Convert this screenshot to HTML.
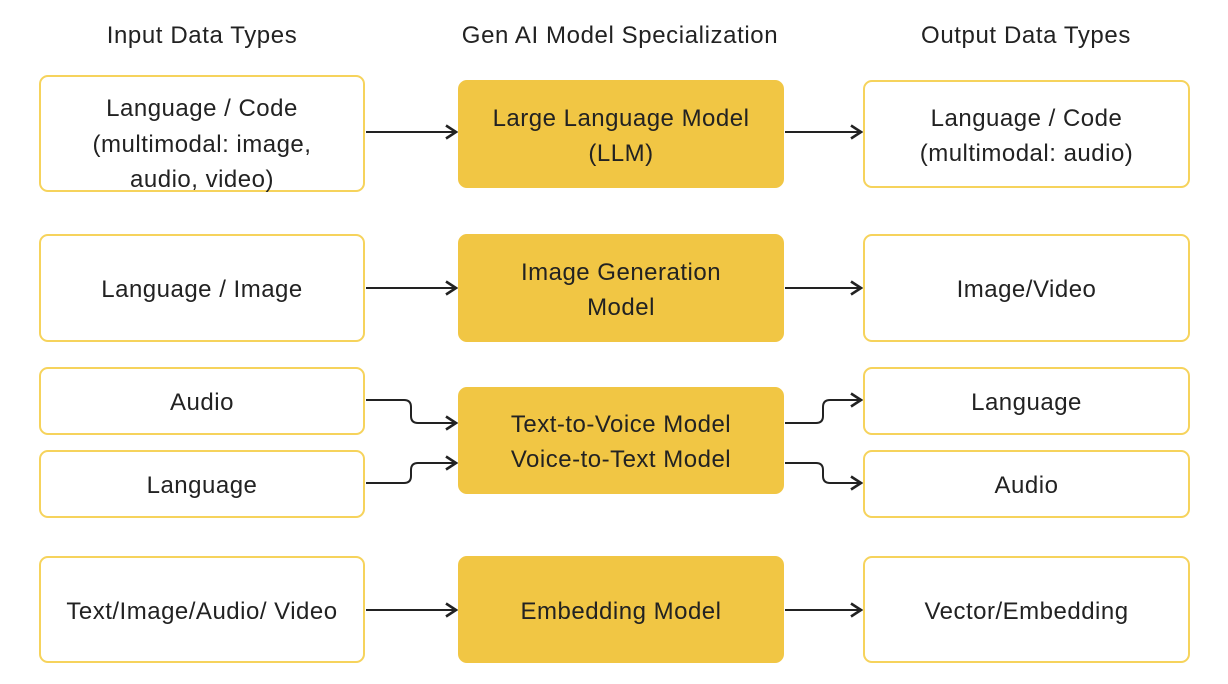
<!DOCTYPE html>
<html><head><meta charset="utf-8"><style>
body{margin:0;width:1228px;height:684px;background:#fff;position:relative;font-family:"Liberation Sans",sans-serif;color:#222;overflow:hidden}
.h{position:absolute;top:21px;font-size:24px;letter-spacing:0.6px;text-align:center;width:420px;line-height:30px}
.b{position:absolute;box-sizing:border-box;border:2px solid #f6d35c;border-radius:9px;display:flex;align-items:center;justify-content:center;text-align:center;font-size:24px;letter-spacing:0.5px;line-height:35px;background:#fff;padding-top:3px}
.m{background:#f1c644;border-color:#f1c644}
svg{position:absolute;left:0;top:0}
</style></head><body>
<div class="h" style="left:-8px">Input Data Types</div>
<div class="h" style="left:410px">Gen AI Model Specialization</div>
<div class="h" style="left:816px">Output Data Types</div>

<div class="b" style="left:39px;top:75px;width:326px;height:117px;padding-top:22px;line-height:35.5px">Language / Code<br>(multimodal: image,<br>audio, video)</div>
<div class="b m" style="left:458px;top:80px;width:326px;height:108px">Large Language Model<br>(LLM)</div>
<div class="b" style="left:863px;top:80px;width:327px;height:108px">Language / Code<br>(multimodal: audio)</div>

<div class="b" style="left:39px;top:234px;width:326px;height:108px">Language / Image</div>
<div class="b m" style="left:458px;top:234px;width:326px;height:108px">Image Generation<br>Model</div>
<div class="b" style="left:863px;top:234px;width:327px;height:108px">Image/Video</div>

<div class="b" style="left:39px;top:367px;width:326px;height:68px">Audio</div>
<div class="b" style="left:39px;top:450px;width:326px;height:68px">Language</div>
<div class="b m" style="left:458px;top:387px;width:326px;height:107px">Text-to-Voice Model<br>Voice-to-Text Model</div>
<div class="b" style="left:863px;top:367px;width:327px;height:68px">Language</div>
<div class="b" style="left:863px;top:450px;width:327px;height:68px">Audio</div>

<div class="b" style="left:39px;top:556px;width:326px;height:107px">Text/Image/Audio/ Video</div>
<div class="b m" style="left:458px;top:556px;width:326px;height:107px">Embedding Model</div>
<div class="b" style="left:863px;top:556px;width:327px;height:107px">Vector/Embedding</div>

<svg width="1228" height="684" fill="none" stroke="#222" stroke-width="2">
<defs><marker id="a" markerWidth="14" markerHeight="16" refX="12" refY="8" orient="auto" markerUnits="userSpaceOnUse"><path d="M2,1.5 L12,8 L2,14.5" stroke="#222" stroke-width="2.6" fill="none" stroke-linejoin="miter"/></marker></defs>
<path d="M366 132H456" marker-end="url(#a)"/>
<path d="M785 132H861" marker-end="url(#a)"/>
<path d="M366 288H456" marker-end="url(#a)"/>
<path d="M785 288H861" marker-end="url(#a)"/>
<path d="M366 610H456" marker-end="url(#a)"/>
<path d="M785 610H861" marker-end="url(#a)"/>
<path d="M366 400H404Q411 400 411 407V416Q411 423 418 423H456" marker-end="url(#a)"/>
<path d="M366 483H404Q411 483 411 476V470Q411 463 418 463H456" marker-end="url(#a)"/>
<path d="M785 423H816Q823 423 823 416V407Q823 400 830 400H861" marker-end="url(#a)"/>
<path d="M785 463H816Q823 463 823 470V476Q823 483 830 483H861" marker-end="url(#a)"/>
</svg>
</body></html>
